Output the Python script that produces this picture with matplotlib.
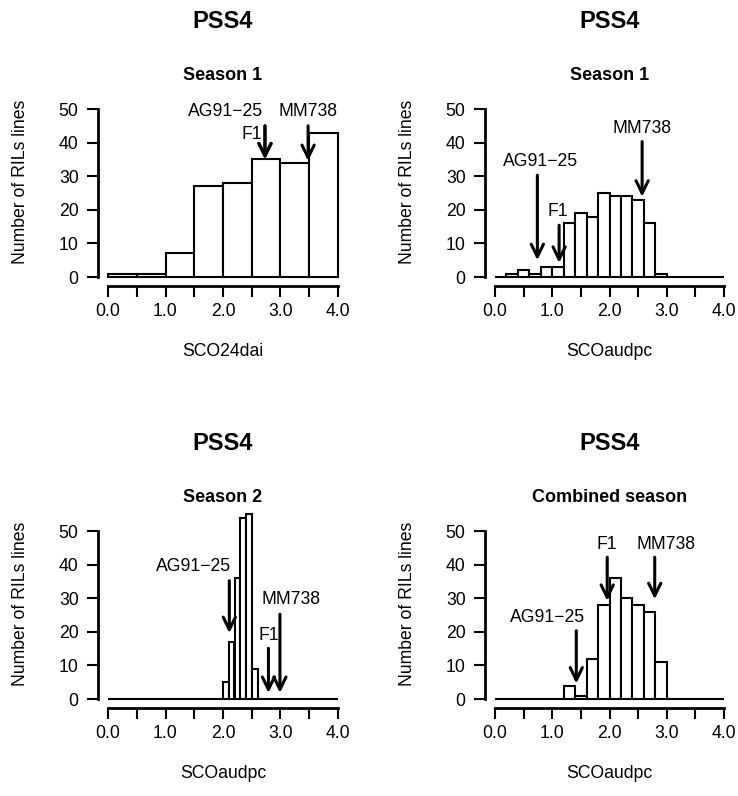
"""
Histograms of PSS4 scores for the RIL population, with parent / F1 arrows
"""

import numpy as np
from matplotlib import pyplot as plt

plt.rcParams['font.family'] = ['Liberation Sans', 'DejaVu Sans']

W, H = 738, 796
PX_PER_UNIT = 3.36

FIG_OUT = "out.png"

# counts per bin, bins cover 0 -> 4
s1_24dai_counts = [1, 1, 7, 27, 28, 35, 34, 43]
s1_audpc_counts = [0, 1, 2, 1, 3, 3, 16, 19, 18, 25, 24, 24, 23, 16, 1,
                   0, 0, 0, 0, 0]
s2_audpc_counts = [0] * 20 + [5, 17, 36, 54, 55, 9] + [0] * 14
comb_audpc_counts = [0, 0, 0, 0, 0, 0, 4, 1, 12, 28, 36, 30, 28, 26, 11,
                     0, 0, 0, 0, 0]

names = ["AG91\u221225", "F1", "MM738"]

# arrows: x position, start (top) and tip heights; label positions
s1_24dai_arrow_x = [2.73, 2.73, 3.48]
s1_24dai_arrow_top = [45.0, 45.0, 45.0]
s1_24dai_arrow_tip = [35.0, 35.0, 34.5]
s1_24dai_label_x = [2.05, 2.5, 3.48]
s1_24dai_label_y = [50.0, 43.0, 50.0]

s1_audpc_arrow_x = [0.74, 1.12, 2.57]
s1_audpc_arrow_top = [30.3, 15.4, 40.3]
s1_audpc_arrow_tip = [5.0, 4.2, 23.9]
s1_audpc_label_x = [0.80, 1.10, 2.57]
s1_audpc_label_y = [35.0, 20.0, 44.7]

s2_audpc_arrow_x = [2.11, 2.79, 2.99]
s2_audpc_arrow_top = [35.2, 15.1, 25.2]
s2_audpc_arrow_tip = [19.6, 1.8, 1.8]
s2_audpc_label_x = [1.49, 2.79, 3.18]
s2_audpc_label_y = [39.9, 19.5, 30.2]

comb_audpc_arrow_x = [1.42, 1.96, 2.79]
comb_audpc_arrow_top = [20.3, 42.2, 42.2]
comb_audpc_arrow_tip = [4.6, 29.2, 29.7]
comb_audpc_label_x = [0.91, 1.96, 2.98]
comb_audpc_label_y = [24.8, 46.7, 46.7]

x_ticks = [0.0, 0.5, 1.0, 1.5, 2.0, 2.5, 3.0, 3.5, 4.0]
x_tick_labels = ["0.0", "", "1.0", "", "2.0", "", "3.0", "", "4.0"]
y_ticks = [0, 10, 20, 30, 40, 50]

fontsize = 12.7


def _fx(px):
    return px / W


def _fy(py):
    return 1 - py / H


def _plot(fig, x0, x1, y0, counts, arrow_x, arrow_top, arrow_tip,
          label_x, label_y, subtitle, xlabel):

    ylo, yhi = -6, 60
    ax = fig.add_axes([_fx(x0), _fy(y0 - ylo * PX_PER_UNIT),
                       (x1 - x0) / W, (yhi - ylo) * PX_PER_UNIT / H])
    ax.patch.set_visible(False)

    breaks = np.linspace(0, 4, len(counts) + 1)
    ax.bar(breaks[:-1], counts, width=np.diff(breaks), align='edge',
           facecolor='white', edgecolor='black', linewidth=1.5,
           clip_on=False, zorder=2)

    for xa, ya, yb in zip(arrow_x, arrow_top, arrow_tip):
        ax.annotate('', xy=(xa, yb), xytext=(xa, ya), zorder=3,
                    arrowprops=dict(arrowstyle='->,head_length=0.45,'
                                    'head_width=0.22', color='black',
                                    lw=2.2, shrinkA=0, shrinkB=0,
                                    mutation_scale=20))

    for name, xt, yt in zip(names, label_x, label_y):
        ax.text(xt, yt, name, ha='center', va='center_baseline',
                fontsize=fontsize)

    ax.set_xlim(0, 4)
    ax.set_ylim(ylo, yhi)

    for s in ['top', 'right']:
        ax.spines[s].set_visible(False)
    ax.spines['left'].set_position(('outward', 7.2))
    ax.spines['left'].set_bounds(0, 50)
    ax.spines['bottom'].set_position(('data', -2.8))
    ax.spines['bottom'].set_bounds(0, 4)
    for s in ['left', 'bottom']:
        ax.spines[s].set_linewidth(2)

    ax.set_xticks(x_ticks)
    ax.set_xticklabels(x_tick_labels)
    ax.set_yticks(y_ticks)
    ax.tick_params(axis='both', labelsize=fontsize, length=8, width=1.5)
    ax.tick_params(axis='y', pad=6)
    ax.tick_params(axis='x', pad=4)

    xc = (x0 + x1) / 2
    fig.text(_fx(xc), _fy(y0 - 255), "PSS4", ha='center', va='center',
             fontsize=17, fontweight='bold')
    fig.text(_fx(xc), _fy(y0 - 201), subtitle, ha='center', va='center',
             fontsize=13, fontweight='bold')
    fig.text(_fx(xc), _fy(y0 + 75), xlabel, ha='center', va='center',
             fontsize=fontsize)
    fig.text(_fx(x0 - 87), _fy(y0 - 95), "Number of RILs lines",
             ha='center', va='center', rotation=90, fontsize=fontsize)

    return ax


def main():

    fig = plt.figure(figsize=(W / 100, H / 100), dpi=100)

    _plot(fig, 108, 338, 277, s1_24dai_counts, s1_24dai_arrow_x,
          s1_24dai_arrow_top, s1_24dai_arrow_tip, s1_24dai_label_x,
          s1_24dai_label_y, "Season 1", "SCO24dai")
    _plot(fig, 495, 724, 277, s1_audpc_counts, s1_audpc_arrow_x,
          s1_audpc_arrow_top, s1_audpc_arrow_tip, s1_audpc_label_x,
          s1_audpc_label_y, "Season 1", "SCOaudpc")
    _plot(fig, 108, 338, 699, s2_audpc_counts, s2_audpc_arrow_x,
          s2_audpc_arrow_top, s2_audpc_arrow_tip, s2_audpc_label_x,
          s2_audpc_label_y, "Season 2", "SCOaudpc")
    _plot(fig, 495, 724, 699, comb_audpc_counts, comb_audpc_arrow_x,
          comb_audpc_arrow_top, comb_audpc_arrow_tip, comb_audpc_label_x,
          comb_audpc_label_y, "Combined season", "SCOaudpc")

    fig.savefig(FIG_OUT, dpi=100)


if __name__ == "__main__":
    main()
